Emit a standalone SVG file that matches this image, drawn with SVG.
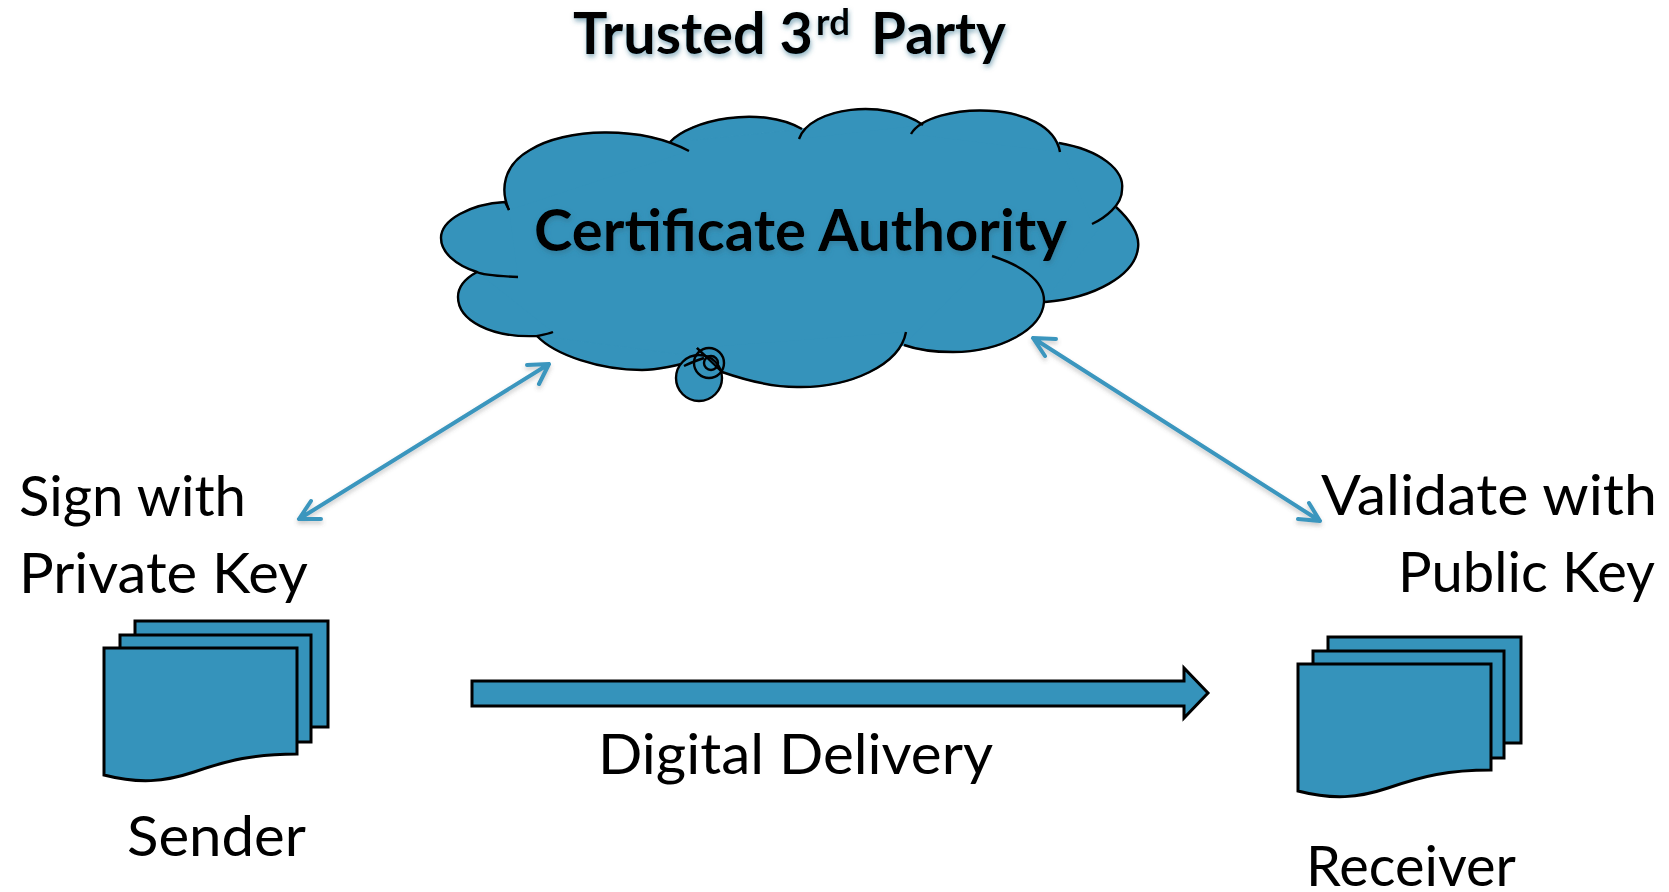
<svg xmlns="http://www.w3.org/2000/svg" width="1669" height="892" viewBox="0 0 1669 892">
<style>
text{font-family:"Lato","Open Sans",sans-serif;fill:#000}
.t{font-size:57px}
.b{font-size:57px;font-weight:700;filter:url(#ts)}
.f{fill:#3593bb;stroke:#000;stroke-width:3;stroke-linejoin:miter}
.o{fill:none;stroke:#000;stroke-width:2.4;stroke-linecap:butt}
.c{fill:none;stroke:#3a96be;stroke-width:4;stroke-linecap:round;stroke-linejoin:round;filter:url(#as)}
</style>
<defs>
<filter id="ts" x="-10%" y="-30%" width="120%" height="170%"><feDropShadow dx="1" dy="3" stdDeviation="2.5" flood-color="#2d6f8c" flood-opacity=".55"/></filter>
<filter id="as" x="-10%" y="-10%" width="120%" height="120%"><feDropShadow dx="0" dy="3" stdDeviation="2" flood-color="#555" flood-opacity=".3"/></filter>
<path id="doc" class="f" d="M0,0H193V106C150,106 125,112 90,124C60,134 35,136 0,127Z"/>
<rect id="sheet" class="f" width="193" height="106"/>
<rect id="sheet2" class="f" width="191" height="107"/>
<path id="l1" d="M509,210C500,190 503,165 530,150C565,128 640,125 689,151"/>
<path id="l2" d="M670,142C690,120 760,105 802,129"/>
<path id="l3" d="M799,139C810,107 885,98 923,125"/>
<path id="l4" d="M911,134C930,102 1050,98 1060,152"/>
<path id="l5" d="M1059,143C1100,150 1125,170 1122,190C1122,205 1105,218 1092,224"/>
<path id="l6" d="M1116,207C1130,220 1140,235 1138,248C1135,275 1095,298 1045,302"/>
<path id="l7" d="M992,256C1020,265 1045,280 1044,302C1042,330 1000,352 953,352C935,352 918,350 904,345"/>
<path id="l8" d="M906,332C900,365 850,388 797,387C770,387 745,380 722,372L697,348"/>
<path id="l9" d="M704,358C680,365 660,370 642,370C600,370 555,355 537,336"/>
<path id="l10" d="M553,332C548,334 542,335 537,336C490,338 458,320 458,297C458,287 466,278 477,272"/>
<path id="l11" d="M518,277C495,276 482,275 477,272C455,265 441,252 441,238C441,220 470,204 505,202L509,210"/>
</defs>
<text class="b" x="573" y="54" textLength="240" lengthAdjust="spacingAndGlyphs">Trusted 3</text>
<text class="b" x="816" y="35" style="font-size:37px" textLength="34" lengthAdjust="spacingAndGlyphs">rd</text>
<text class="b" x="871" y="54" textLength="135" lengthAdjust="spacingAndGlyphs">Party</text>
<g id="cloud">
<g fill="#3593bb" stroke="#3593bb" stroke-width="1.5">
<path d="M505,202L670,142L802,129L923,125L1059,143L1116,207L1045,302L904,345L722,372L704,358L537,336L477,272Z"/>
<use href="#l1"/><use href="#l2"/><use href="#l3"/><use href="#l4"/><use href="#l5"/><use href="#l6"/><use href="#l7"/><use href="#l8"/><use href="#l9"/><use href="#l10"/><use href="#l11"/>
</g>
<g class="o">
<use href="#l1"/><use href="#l2"/><use href="#l3"/><use href="#l4"/><use href="#l5"/><use href="#l6"/><use href="#l7"/><use href="#l8"/><use href="#l9"/><use href="#l10"/><use href="#l11"/>
</g>
<circle cx="699" cy="378" r="23" fill="#3593bb" stroke="#000" stroke-width="2.4"/>
<circle cx="709" cy="363" r="15" class="o"/>
<circle cx="711" cy="363" r="7" class="o"/>
<path class="o" d="M697,348L722,372"/>
<path class="o" d="M684,366C692,362 698,360 704,358"/>
</g>
<text class="b" x="534" y="251" textLength="533" lengthAdjust="spacingAndGlyphs">Certificate Authority</text>
<g id="connectors">
<path class="c" d="M299,519L549,364M311,501L299,519L321,519M527,365L549,364L539,384"/>
<path class="c" d="M1033,338L1320,521M1056,339L1033,338L1045,356M1298,519L1320,521L1309,503"/>
<path id="delivery" class="f" d="M472,681H1184V668L1208,693L1184,718V706H472Z"/>
</g>
<g id="sender">
<use href="#sheet" x="135" y="621"/>
<use href="#sheet2" x="120" y="635"/>
<use href="#doc" x="104" y="648"/>
</g>
<g id="receiver">
<use href="#sheet" x="1328" y="637"/>
<use href="#sheet2" x="1313" y="651"/>
<use href="#doc" x="1298" y="664"/>
</g>
<text class="t" x="19" y="516" textLength="227" lengthAdjust="spacingAndGlyphs">Sign with</text>
<text class="t" x="19" y="593" textLength="289" lengthAdjust="spacingAndGlyphs">Private Key</text>
<text class="t" x="127" y="856" textLength="179" lengthAdjust="spacingAndGlyphs">Sender</text>
<text class="t" x="1321" y="515" textLength="336" lengthAdjust="spacingAndGlyphs">Validate with</text>
<text class="t" x="1398" y="592" textLength="257" lengthAdjust="spacingAndGlyphs">Public Key</text>
<text class="t" x="1306" y="886" textLength="210" lengthAdjust="spacingAndGlyphs">Receiver</text>
<text class="t" x="598" y="774" textLength="395" lengthAdjust="spacingAndGlyphs">Digital Delivery</text>
</svg>
